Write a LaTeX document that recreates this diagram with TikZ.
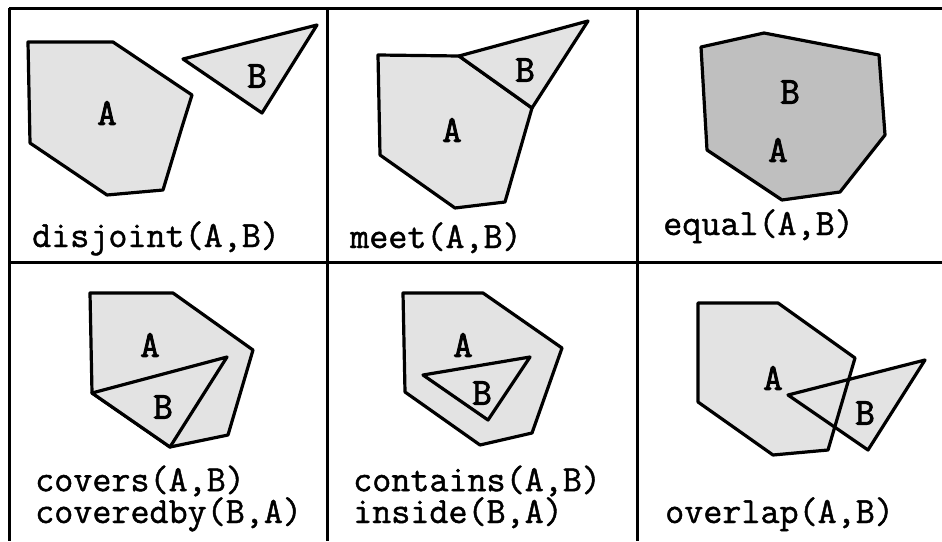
\documentclass[tikz,border=0pt]{standalone}
\usepackage{fontspec}
\newfontfamily\capfont[FakeBold=1.2]{Latin Modern Mono}
\newfontfamily\lblfont[FakeBold=2.2]{Latin Modern Mono}
\begin{document}
\begin{tikzpicture}[x=1pt,y=-1pt,
  grid/.style={line width=3pt,black},
  region/.style={fill=gray!22,draw=black,line width=3.2pt,line join=round},
  regiondark/.style={fill=gray!50,draw=black,line width=3.2pt,line join=round},
  fillonly/.style={fill=gray!22},
  edge/.style={draw=black,line width=3.2pt,line join=round},
  lbl/.style={font=\fontsize{38}{38}\lblfont,inner sep=0pt},
  captext/.style={font=\fontsize{37}{30}\capfont,anchor=base west,inner sep=0pt,align=left}]
\useasboundingbox (0,0) rectangle (942,541);
% grid
\draw[grid] (9,8) -- (942,8);
\draw[grid] (9,262) -- (942,262);
\draw[grid] (9,8) -- (9,541);
\draw[grid] (327,8) -- (327,541);
\draw[grid] (637,8) -- (637,541);
% disjoint
\draw[region] (28,42) -- (113,42) -- (192,95) -- (182,127) -- (163,190) -- (107,195) -- (30,143) -- cycle;
\draw[region] (183,59) -- (317,25) -- (262,113) -- cycle;
\node[lbl] (d1a) at (107,113) {A};
\node[lbl] (d1b) at (257,76) {B};
\node[captext] (c1) at (32,247) {disjoint(A,B)};
% meet
\draw[region] (378,55) -- (459,56) -- (532,108) -- (505,202) -- (455,208) -- (380,155) -- cycle;
\draw[region] (459,56) -- (588,21) -- (532,108) -- cycle;
\node[lbl] (m1a) at (452,130) {A};
\node[lbl] (m1b) at (525,70) {B};
\node[captext] (c2) at (350,248) {meet(A,B)};
% equal
\draw[regiondark] (701,47) -- (764,33) -- (879,55) -- (885,135) -- (840,192) -- (782,200) -- (707,150) -- cycle;
\node[lbl] (e1b) at (790,92) {B};
\node[lbl] (e1a) at (778,150) {A};
\node[captext] (c3) at (663,235) {equal(A,B)};
% covers
\draw[region] (90,293) -- (173,293) -- (253,350) -- (228,435) -- (170,447) -- (92,393) -- cycle;
\draw[region] (92,393) -- (227,357) -- (170,447) -- cycle;
\node[lbl] (v1a) at (150,345) {A};
\node[lbl] (v1b) at (163,407) {B};
\node[captext] (c4) at (35,523) {covers(A,B)\\coveredby(B,A)};
% contains
\draw[region] (403,293) -- (483,293) -- (562,348) -- (532,433) -- (480,445) -- (405,392) -- cycle;
\draw[region] (423,375) -- (530,357) -- (488,420) -- cycle;
\node[lbl] (t1a) at (463,345) {A};
\node[lbl] (t1b) at (482,393) {B};
\node[captext] (c6) at (353,523) {contains(A,B)\\inside(B,A)};
% overlap
\fill[fillonly] (698,303) -- (778,303) -- (855,358) -- (828,450) -- (773,455) -- (698,402) -- cycle;
\fill[fillonly] (788,395) -- (925,360) -- (868,450) -- cycle;
\draw[edge] (698,303) -- (778,303) -- (855,358) -- (828,450) -- (773,455) -- (698,402) -- cycle;
\draw[edge] (788,395) -- (925,360) -- (868,450) -- cycle;
\node[lbl] (o1a) at (773,378) {A};
\node[lbl] (o1b) at (865,413) {B};
\node[captext] (c8) at (665,523) {overlap(A,B)};
\end{tikzpicture}
\end{document}
